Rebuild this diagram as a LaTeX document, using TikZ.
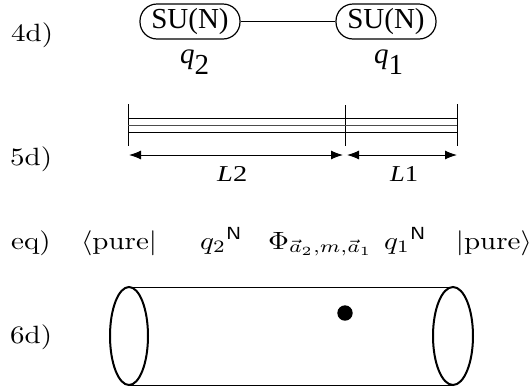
\documentclass[tikz,border=0pt]{standalone}
\usepackage{fontspec}
\setmainfont{lmroman10-regular.otf}[ItalicFont=lmroman10-italic.otf, BoldFont=lmroman10-bold.otf]
\newfontfamily\timesrm{Liberation Serif}
\usetikzlibrary{arrows.meta}
\newcommand{\lmtext}[1]{\scalebox{2.9}[2.5]{#1}}
\begin{document}
\begin{tikzpicture}[x=1pt,y=-1pt,
  lab/.style={font=\normalsize, anchor=base west, inner sep=0pt},
  su/.style={draw, line width=1.2pt, rounded corners=17pt, minimum width=100pt, minimum height=35pt, inner sep=0pt, font=\timesrm\fontsize{29}{32}\selectfont},
  tq/.style={font=\timesrm\fontsize{29}{32}\selectfont, anchor=base west, inner sep=0pt},
  thinline/.style={line width=0.9pt},
  dim/.style={line width=1pt, {Latex[length=12pt,width=9pt]}-{Latex[length=12pt,width=9pt]}},
  rim/.style={line width=2pt}]
\useasboundingbox (0,0) rectangle (531,389);
% 4d
\node[lab] (l4) at (11,41) {\lmtext{4d)}};
\node[su] (s2) at (190,21.5) {SU(N)};
\node[su] (s1) at (386,21.5) {SU(N)};
\draw[thinline] (s2.east) -- (s1.west);
\node[tq] (q2) at (180,63) {\textit{q}\raisebox{-11pt}{2}};
\node[tq] (q1) at (374,63) {\textit{q}\raisebox{-11pt}{1}};
% 5d
\node[lab] (l5) at (10,165) {\lmtext{5d)}};
\coordinate (ta) at (128,104); \coordinate (tb) at (128,146);
\coordinate (ma) at (345,105); \coordinate (mb) at (345,146);
\coordinate (ra) at (457,104); \coordinate (rb) at (457,146);
\draw[thinline] (ta) -- (tb);
\draw[thinline] (ma) -- (mb);
\draw[thinline] (ra) -- (rb);
\coordinate (h1a) at (128,118.5); \coordinate (h1b) at (457,118.5);
\coordinate (h2a) at (128,125.5); \coordinate (h2b) at (457,125.5);
\coordinate (h3a) at (128,132.5); \coordinate (h3b) at (457,132.5);
\draw[thinline] (h1a) -- (h1b);
\draw[line width=1.4pt, black!70] (h2a) -- (h2b);
\draw[thinline] (h3a) -- (h3b);
\coordinate (a1) at (129,155); \coordinate (a2) at (343,155);
\coordinate (a3) at (347,155); \coordinate (a4) at (457,155);
\draw[dim] (a1) -- (a2);
\draw[dim] (a3) -- (a4);
\node[anchor=base west, inner sep=0pt] (L2) at (217,181) {\resizebox{30pt}{15pt}{\timesrm\textit{L}2}};
\node[anchor=base west, inner sep=0pt] (L1) at (390,181) {\resizebox{28pt}{15pt}{\timesrm\textit{L}1}};
% eq
\node[lab] (leq) at (11,249) {\lmtext{eq)}};
\node[lab] (bra) at (81,249) {\lmtext{$\langle$pure$|$}};
\node[lab] (q2n) at (200,249) {\lmtext{$q_2{}^{\mathsf{N}}$}};
\node[lab] (phi) at (268,249) {\lmtext{$\Phi_{\vec a_2,m,\vec a_1}$}};
\node[lab] (q1n) at (384,249) {\lmtext{$q_1{}^{\mathsf{N}}$}};
\node[lab, anchor=base east] (ket) at (532,249) {\lmtext{$|$pure$\rangle$}};
% 6d
\node[lab] (l6) at (10,343) {\lmtext{6d)}};
\coordinate (ct1) at (129,287); \coordinate (ct2) at (453,287);
\coordinate (cb1) at (129,385); \coordinate (cb2) at (453,385);
\draw[line width=1pt] (ct1) -- (ct2);
\draw[line width=1pt] (cb1) -- (cb2);
\draw[rim] (129,336) ellipse [x radius=19pt, y radius=49pt];
\draw[rim] (453,336) ellipse [x radius=20pt, y radius=49pt];
\fill (345,313) circle [radius=7.7pt];
\end{tikzpicture}
\end{document}
